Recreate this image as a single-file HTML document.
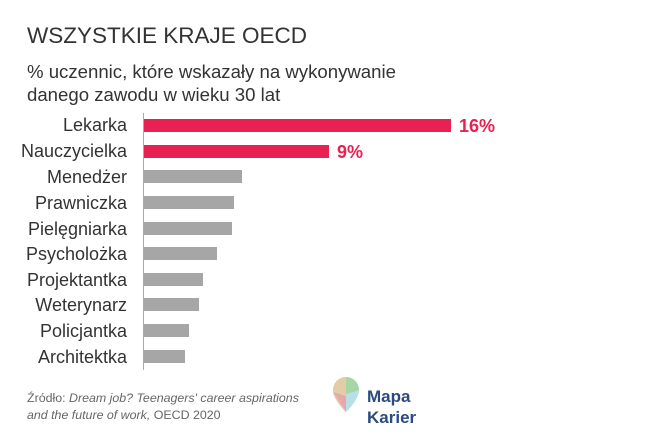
<!DOCTYPE html>
<html><head><meta charset="utf-8"><style>
body{margin:0;width:667px;height:441px;background:#fff;font-family:"Liberation Sans",sans-serif;position:relative;overflow:hidden}
.t{position:absolute;white-space:nowrap}
</style></head><body>
<div class="t" style="left:27px;top:23px;font-size:22.5px;color:#333">WSZYSTKIE KRAJE OECD</div>
<div class="t" style="left:27px;top:60px;font-size:18.6px;color:#333;line-height:23px">% uczennic, które wskazały na wykonywanie<br>danego zawodu w wieku 30 lat</div>
<div style="position:absolute;left:143px;top:113px;width:1px;height:257px;background:#aaa"></div>
<svg width="667" height="441" style="position:absolute;left:0;top:0">
<g font-family="Liberation Sans" font-size="18" fill="#333" text-anchor="end">
<text x="127" y="131">Lekarka</text>
<text x="127" y="157">Nauczycielka</text>
<text x="127" y="183">Menedżer</text>
<text x="127" y="209">Prawniczka</text>
<text x="127" y="235">Pielęgniarka</text>
<text x="127" y="260">Psycholożka</text>
<text x="127" y="286">Projektantka</text>
<text x="127" y="311">Weterynarz</text>
<text x="127" y="337">Policjantka</text>
<text x="127" y="363">Architektka</text>
</g>
<rect x="144" y="119" width="307" height="13" fill="#e82152"/>
<rect x="144" y="145" width="185" height="13" fill="#e82152"/>
<rect x="144" y="170" width="98" height="13" fill="#a6a6a6"/>
<rect x="144" y="196" width="90" height="13" fill="#a6a6a6"/>
<rect x="144" y="222" width="88" height="13" fill="#a6a6a6"/>
<rect x="144" y="247" width="73" height="13" fill="#a6a6a6"/>
<rect x="144" y="273" width="59" height="13" fill="#a6a6a6"/>
<rect x="144" y="298" width="55" height="13" fill="#a6a6a6"/>
<rect x="144" y="324" width="45" height="13" fill="#a6a6a6"/>
<rect x="144" y="350" width="41" height="13" fill="#a6a6a6"/>
<g font-family="Liberation Sans" font-size="18" fill="#e82152" font-weight="bold">
<text x="459" y="132">16%</text>
<text x="337" y="158">9%</text>
</g>
<g transform="translate(346,392)">
<path d="M-13 -2 a13 13 0 0 1 26 0 c0 10 -13 22 -13 22 c0 0 -13 -12 -13 -22z" fill="#b7dfe6"/>
<path d="M-13 -2 a13 13 0 0 1 13 -13 v35 c0 0 -13 -12 -13 -22z" fill="#f6c48a" opacity=".7"/>
<path d="M0 -15 a13 13 0 0 1 13 13 l-13 4z" fill="#9ed08a" opacity=".7"/>
<path d="M-13 0 l13 4 l0 16z" fill="#e98fb0" opacity=".6"/>
</g>
<g font-family="Liberation Sans" font-size="17" fill="#2c4a80" font-weight="bold">
<text x="367" y="402">Mapa</text>
<text x="367" y="423">Karier</text>
</g>
</svg>
<div class="t" style="left:27px;top:390px;font-size:12.4px;color:#666;line-height:17px">Źródło: <i>Dream job? Teenagers' career aspirations<br>and the future of work,</i> OECD 2020</div>
</body></html>
